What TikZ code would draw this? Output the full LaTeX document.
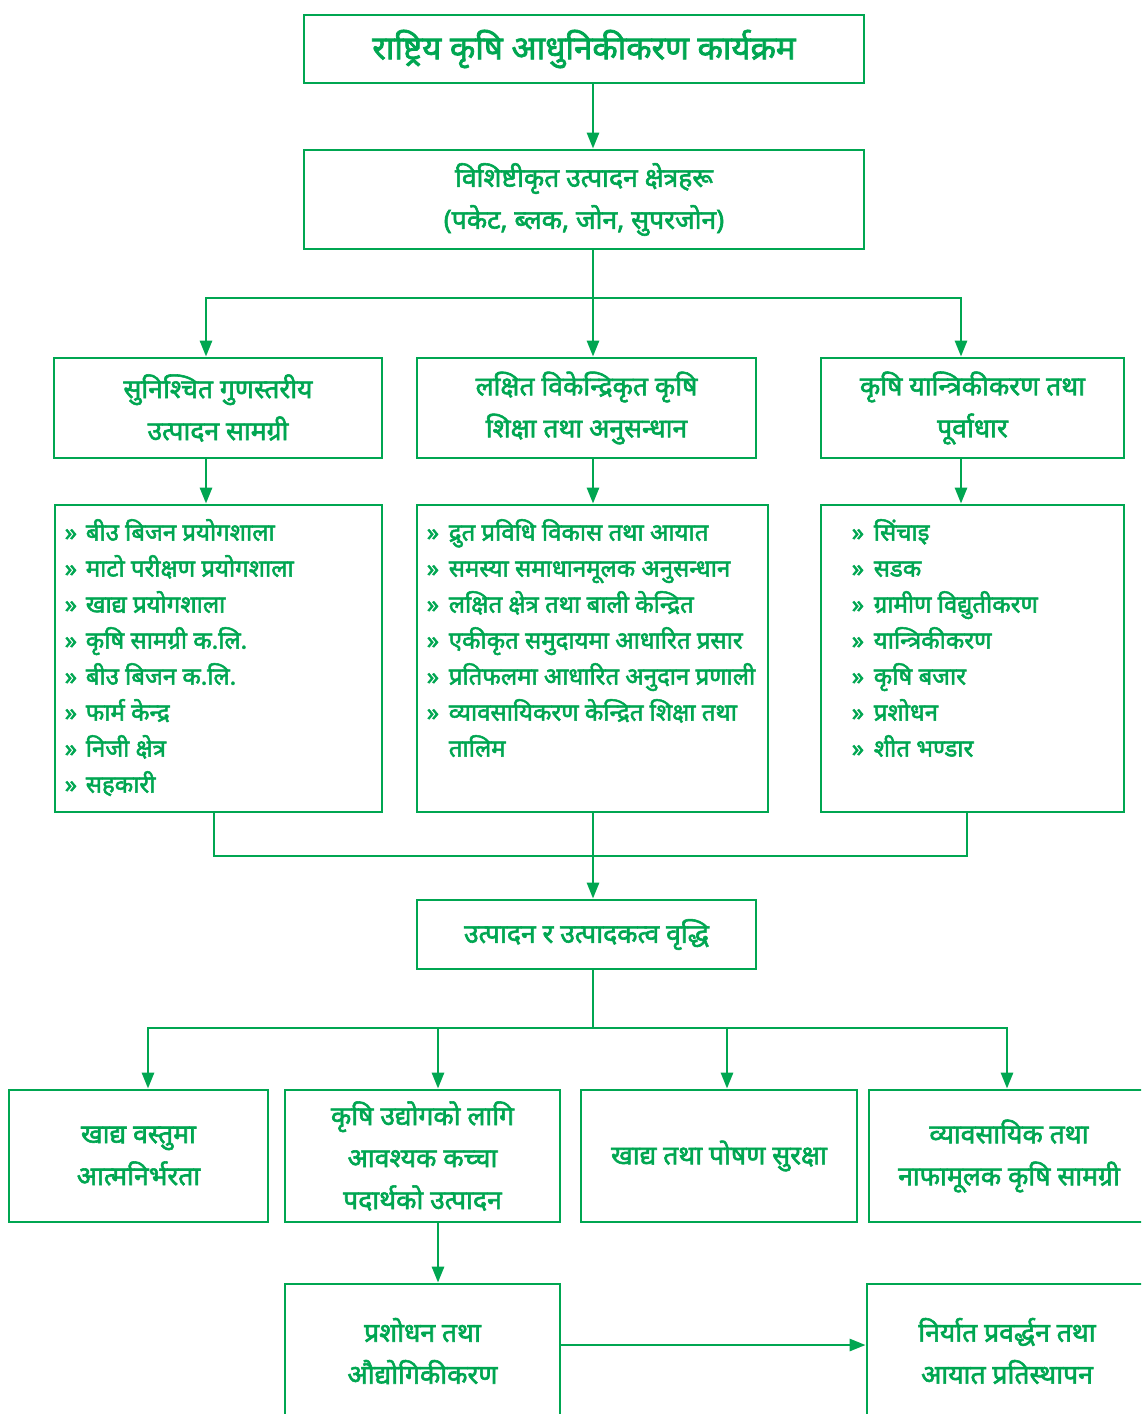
\documentclass[tikz,border=0pt]{standalone}
\usepackage{fontspec}
\newfontfamily\devfont[Script=Devanagari, FakeBold=2.2]{Noto Sans}
\usetikzlibrary{calc, positioning, arrows.meta}
\definecolor{agrigreen}{RGB}{0,166,81}

\begin{document}
\begin{tikzpicture}[x=1pt, y=-1pt,
    box/.style={draw=agrigreen, line width=2.8pt, inner sep=0pt, align=center, text=agrigreen,
      font=\devfont\fontsize{26.5}{42}\selectfont},
    listbox/.style={draw=agrigreen, line width=2.8pt, inner sep=0pt, minimum height=307pt},
    item/.style={anchor=base west, inner sep=0pt, text=agrigreen,
      font=\devfont\fontsize{24}{36}\selectfont},
    flow/.style={draw=agrigreen, line width=2.8pt, -{Triangle[length=16pt, width=12pt]}},
    link/.style={draw=agrigreen, line width=2.8pt}]
    \useasboundingbox (0,0) rectangle (1141,1414);
    \clip (0,0) rectangle (1141,1414);

    % Programme and zones
    \node[box, minimum width=560pt, minimum height=68pt, font=\devfont\fontsize{33}{42}\selectfont]
      (nakp) at (584,49) {राष्ट्रिय कृषि आधुनिकीकरण कार्यक्रम};
    \node[box, minimum width=560pt, minimum height=99pt] (zones) at (584,199.5)
      {विशिष्टीकृत उत्पादन क्षेत्रहरू\\(पकेट, ब्लक, जोन, सुपरजोन)};

    % Three pillars
    \node[box, minimum width=328pt, minimum height=100pt] (inputs) at (218,408)
      {सुनिश्चित गुणस्तरीय\\उत्पादन सामग्री};
    \node[box, minimum width=339pt, minimum height=100pt] (research) at (586.5,408)
      {लक्षित विकेन्द्रिकृत कृषि\\शिक्षा तथा अनुसन्धान};
    \node[box, minimum width=303pt, minimum height=100pt] (mech) at (972.5,408)
      {कृषि यान्त्रिकीकरण तथा\\पूर्वाधार};

    % Lists under the pillars
    \node[listbox, minimum width=327pt] (inputslist) at (218.5,658.5) {};
    \node[listbox, minimum width=351pt] (researchlist) at (592.5,658.5) {};
    \node[listbox, minimum width=303pt] (mechlist) at (972.5,658.5) {};

    \foreach \mk/\txt [count=\i] in {»/बीउ बिजन प्रयोगशाला, »/माटो परीक्षण प्रयोगशाला, »/खाद्य प्रयोगशाला,
        »/कृषि सामग्री क.लि., »/बीउ बिजन क.लि., »/फार्म केन्द्र, »/निजी क्षेत्र, »/सहकारी}
      \node[item] (inputsitem\i) at ($(inputslist.north west)+(11,37+36*\i-36)$) {\makebox[21pt][l]{\mk}\txt};
    \foreach \mk/\txt [count=\i] in {»/द्रुत प्रविधि विकास तथा आयात, »/समस्या समाधानमूलक अनुसन्धान,
        »/लक्षित क्षेत्र तथा बाली केन्द्रित, »/एकीकृत समुदायमा आधारित प्रसार,
        »/प्रतिफलमा आधारित अनुदान प्रणाली, »/व्यावसायिकरण केन्द्रित शिक्षा तथा, {}/तालिम}
      \node[item] (researchitem\i) at ($(researchlist.north west)+(11,37+36*\i-36)$) {\makebox[22pt][l]{\mk}\txt};
    \foreach \mk/\txt [count=\i] in {»/सिंचाइ, »/सडक, »/ग्रामीण विद्युतीकरण, »/यान्त्रिकीकरण,
        »/कृषि बजार, »/प्रशोधन, »/शीत भण्डार}
      \node[item] (mechitem\i) at ($(mechlist.north west)+(32,37+36*\i-36)$) {\makebox[22pt][l]{\mk}\txt};

    % Growth and outcomes
    \node[box, minimum width=339pt, minimum height=69pt] (growth) at (586.5,934.5)
      {उत्पादन र उत्पादकत्व वृद्धि};
    \node[box, minimum width=259pt, minimum height=132pt] (selfrel) at (138.5,1156)
      {खाद्य वस्तुमा\\आत्मनिर्भरता};
    \node[box, minimum width=275pt, minimum height=132pt] (rawmat) at (422.5,1156)
      {कृषि उद्योगको लागि\\आवश्यक कच्चा\\पदार्थको उत्पादन};
    \node[box, minimum width=276pt, minimum height=132pt] (security) at (719,1156)
      {खाद्य तथा पोषण सुरक्षा};
    \node[box, minimum width=280pt, minimum height=132pt] (commercial) at (1009,1156)
      {व्यावसायिक तथा\\नाफामूलक कृषि सामग्री};
    \node[box, minimum width=275pt, minimum height=134pt] (processing) at (422.5,1351)
      {प्रशोधन तथा\\औद्योगिकीकरण};
    \node[box, minimum width=280pt, minimum height=134pt] (export) at (1007,1351)
      {निर्यात प्रवर्द्धन तथा\\आयात प्रतिस्थापन};

    \coordinate (fork1) at (593,298);
    \coordinate (merge) at (593,856);
    \coordinate (fork2) at (593,1028);

    % Connectors
    \draw[flow] ([xshift=9pt]nakp.south) -- ([xshift=9pt]zones.north);
    \draw[link] ([xshift=9pt]zones.south) -- (fork1);
    \draw[flow] (fork1) -| ([xshift=-12pt]inputs.north);
    \draw[flow] (fork1) -- ([xshift=6.5pt]research.north);
    \draw[flow] (fork1) -| ([xshift=-11.5pt]mech.north);

    \draw[flow] ([xshift=-12pt]inputs.south) -- ([xshift=-12.5pt]inputslist.north);
    \draw[flow] ([xshift=6.5pt]research.south) -- ([xshift=0.5pt]researchlist.north);
    \draw[flow] ([xshift=-11.5pt]mech.south) -- ([xshift=-11.5pt]mechlist.north);

    \draw[link] ([xshift=-4.5pt]inputslist.south) |- (merge) -| ([xshift=-5.5pt]mechlist.south);
    \draw[flow] ([xshift=0.5pt]researchlist.south) -- ([xshift=6.5pt]growth.north);

    \draw[link] ([xshift=6.5pt]growth.south) -- (fork2);
    \draw[flow] (fork2) -| ([xshift=9.5pt]selfrel.north);
    \draw[flow] (fork2) -| ([xshift=15.5pt]rawmat.north);
    \draw[flow] (fork2) -| ([xshift=8pt]security.north);
    \draw[flow] (fork2) -| ([xshift=-2pt]commercial.north);

    \draw[flow] ([xshift=15.5pt]rawmat.south) -- ([xshift=15.5pt]processing.north);
    \draw[flow] ([yshift=6pt]processing.east) -- ([yshift=6pt]export.west);
\end{tikzpicture}
\end{document}
